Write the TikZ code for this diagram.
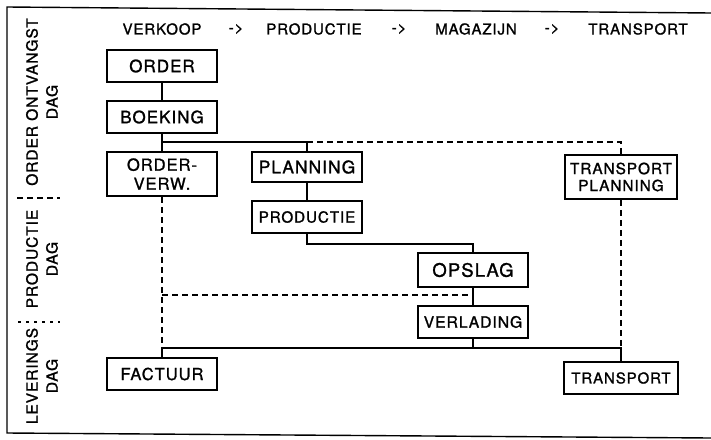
\documentclass[tikz,border=0pt]{standalone}
\usepackage{fontspec}
\setmainfont{TeX Gyre Heros}[LetterSpace=6, FakeBold=1.3]
\begin{document}
\begin{tikzpicture}[x=1pt,y=-1pt]
\tikzset{
  box/.style={draw, line width=1.8pt, minimum width=110pt, minimum height=32pt, inner sep=2pt, align=center},
  conn/.style={line width=1.2pt},
  dconn/.style={line width=1.4pt, dash pattern=on 6pt off 4pt},
  hdr/.style={font=\fontsize{15}{18}\selectfont},
  side/.style={rotate=90, align=center, font=\fontsize{15.5}{20}\selectfont},
  frame/.style={line width=1.4pt}
}
\useasboundingbox (0,0) rectangle (711,439);
% frame
\draw[frame] (711,13) -- (7,7) -- (7,433) -- (711,438);
% header
\node[hdr] (h1) at (162,29) {VERKOOP};
\node[hdr] (a1) at (236,29) {->};
\node[hdr] (h2) at (314,29) {PRODUCTIE};
\node[hdr] (a2) at (399,29) {->};
\node[hdr] (h3) at (476,29) {MAGAZIJN};
\node[hdr] (a3) at (552,29) {->};
\node[hdr] (h4) at (638,29) {TRANSPORT};
% side labels
\node[side] (s1) at (42,102) {ORDER ONTVANGST\\DAG};
\node[side] (s2) at (42,259) {PRODUCTIE\\DAG};
\node[side] (s3) at (42,376) {LEVERINGS\\DAG};
\draw[dconn, line width=1.2pt] (17,198) -- (60,198);
\draw[line width=2pt, dash pattern=on 3pt off 5pt] (18,322) -- (60,322);
% boxes
\node[box, font=\fontsize{17}{20}\selectfont] (order) at (162,66) {ORDER};
\node[box, font=\fontsize{17}{20}\selectfont] (boeking) at (162,117) {BOEKING};
\node[box, minimum height=44pt, font=\fontsize{16.5}{19}\selectfont] (orderverw) at (162,174) {ORDER-\\VERW.};
\node[box, minimum height=30pt, font=\fontsize{17.4}{20}\selectfont] (planning) at (307,167) {PLANNING};
\node[box, font=\fontsize{15.2}{18}\selectfont] (productie) at (307,217) {PRODUCTIE};
\node[box, minimum height=34pt, font=\fontsize{18.5}{20}\selectfont] (opslag) at (473,270) {OPSLAG};
\node[box, font=\fontsize{15.7}{18}\selectfont] (verlading) at (473,322) {VERLADING};
\node[box, font=\fontsize{16.5}{19}\selectfont] (factuur) at (162,374) {FACTUUR};
\node[box, minimum width=112pt, minimum height=44pt, font=\fontsize{15.4}{17}\selectfont] (tplanning) at (621,177) {TRANSPORT\\PLANNING};
\node[box, minimum width=114pt, font=\fontsize{15}{18}\selectfont] (transport) at (621,378) {TRANSPORT};
% junction levels
\coordinate (j1) at (162,142);
\coordinate (j2) at (162,348);
\coordinate (j3) at (162,295);
% connectors
\draw[conn] (order) -- (boeking);
\draw[conn] (boeking) -- (orderverw);
\draw[conn] (j1) -| (planning.north);
\draw[dconn] (planning.north |- j1) -| (tplanning.north);
\draw[conn] (planning) -- (productie);
\draw[conn] (productie.south) -- ++(0,10) -| (opslag.north);
\draw[conn] (opslag) -- (verlading);
\draw[conn] (factuur.north) -- (j2) -- (transport.north |- j2) -- (transport.north);
\draw[conn] (verlading.south) -- (verlading.south |- j2);
\draw[dconn] (orderverw.south) -- (j2);
\draw[dconn] (j3) -- (opslag.south |- j3);
\draw[dconn] (tplanning.south) -- (tplanning.south |- j2);
\end{tikzpicture}
\end{document}
